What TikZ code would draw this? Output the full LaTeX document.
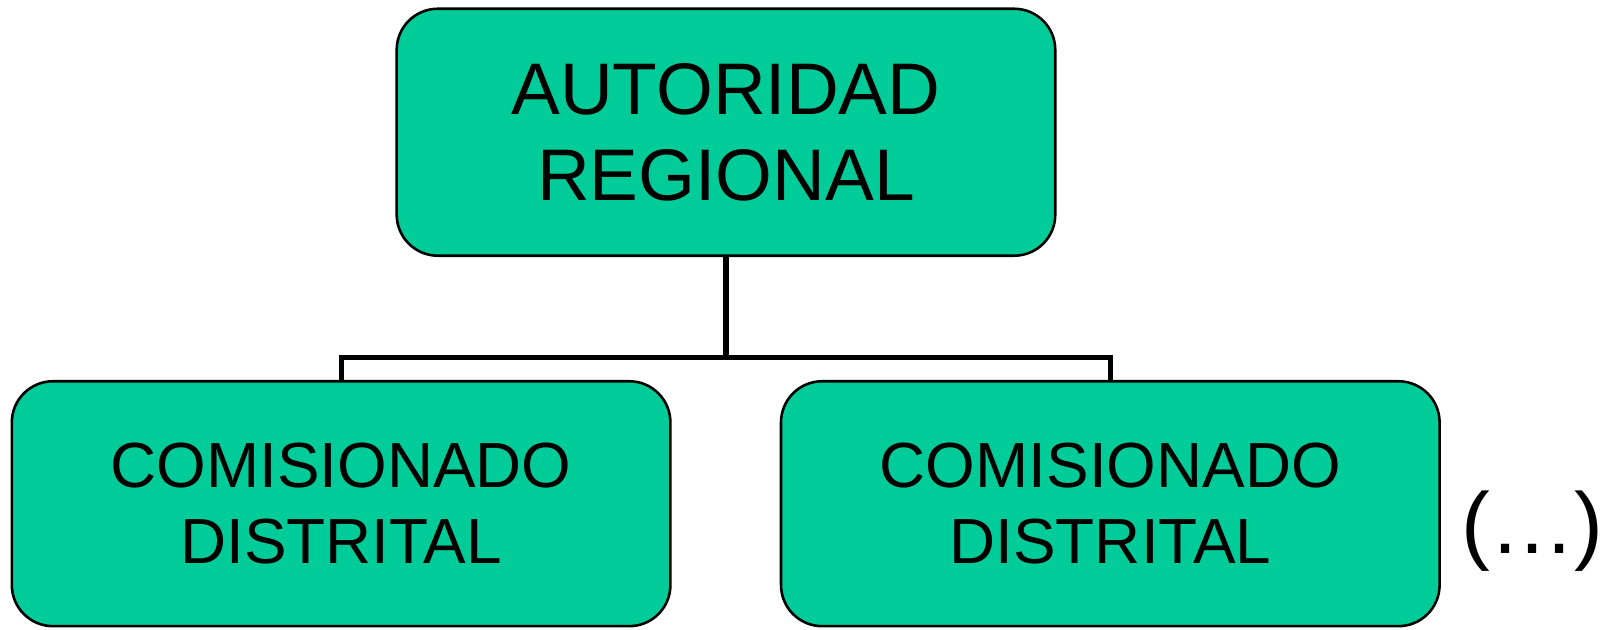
\documentclass[tikz,border=0pt]{standalone}
\usepackage{fontspec}
\setmainfont{Liberation Sans}
\definecolor{boxgreen}{HTML}{00CC99}
\begin{document}
\begin{tikzpicture}[x=1pt,y=-1pt,
  orgbox/.style={draw=black, line width=2.5pt, fill=boxgreen, rounded corners=40pt,
    inner sep=0pt, align=center},
  link/.style={draw=black, line width=5pt}]
\useasboundingbox (0,0) rectangle (1568.5,611.3);
\node[orgbox, minimum width=640pt, minimum height=240pt, font=\fontsize{71}{84}\selectfont]
  (top) at (705.5,128.5) {AUTORIDAD\\REGIONAL};
\node[orgbox, minimum width=640pt, minimum height=238pt, font=\fontsize{62}{74}\selectfont]
  (left) at (331.5,489.5) {COMISIONADO\\DISTRITAL};
\node[orgbox, minimum width=640pt, minimum height=238pt, font=\fontsize{62}{74}\selectfont]
  (right) at (1079,489.5) {COMISIONADO\\DISTRITAL};
\node[font=\fontsize{84}{100}\selectfont, inner sep=0pt] (more) at (1489,516) {(\kern3pt.\kern3pt.\kern3pt.\kern3pt)};
\coordinate (bar) at (705.5,347);
\draw[link] (top.south) -- (bar);
\draw[link] (left.north) |- (bar) -| (right.north);
\end{tikzpicture}
\end{document}
